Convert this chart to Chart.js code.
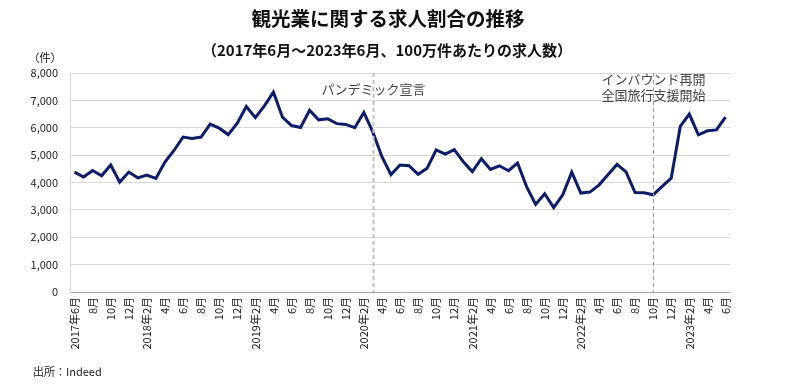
<!DOCTYPE html>
<html>
<head>
<meta charset="utf-8">
<script src="https://cdn.jsdelivr.net/npm/chart.js@4"></script>
<style>
  html, body { margin: 0; padding: 0; background: #fff; }
  #wrap { width: 800px; height: 390px; position: relative; }
</style>
</head>
<body>
<div id="wrap"><canvas id="tourism_chart"></canvas></div>
<script>
// monthly, 2017年6月 .. 2023年6月
const months = [
    '2017年6月','7月','8月','9月','10月','11月','12月',
    '2018年1月','2018年2月','3月','4月','5月','6月','7月','8月','9月','10月','11月','12月',
    '2019年1月','2019年2月','3月','4月','5月','6月','7月','8月','9月','10月','11月','12月',
    '2020年1月','2020年2月','3月','4月','5月','6月','7月','8月','9月','10月','11月','12月',
    '2021年1月','2021年2月','3月','4月','5月','6月','7月','8月','9月','10月','11月','12月',
    '2022年1月','2022年2月','3月','4月','5月','6月','7月','8月','9月','10月','11月','12月',
    '2023年1月','2023年2月','3月','4月','5月','6月'
];
// only every second month is labelled on the axis
const tickLabels = months.map((m, i) => i % 2 === 0 ? m : '');

const jobsPerMillion = [
    4380, 4200, 4440, 4245, 4640, 4015, 4380,
    4170, 4270, 4150, 4750, 5170, 5660, 5610, 5660, 6130, 5985, 5750, 6165,
    6775, 6370, 6800, 7300, 6385, 6080, 6010, 6640, 6290, 6330, 6150, 6120,
    6000, 6560, 5840, 4940, 4290, 4640, 4615, 4300, 4520, 5190, 5040, 5200,
    4760, 4400, 4870, 4480, 4610, 4430, 4710, 3850, 3200, 3590, 3085, 3550,
    4380, 3615, 3650, 3905, 4280, 4660, 4390, 3630, 3625, 3550, 3855, 4160,
    6050, 6500, 5740, 5890, 5920, 6390
];

const yTicks = [0, 1000, 2000, 3000, 4000, 5000, 6000, 7000, 8000];

// event markers (index into months)
const eventIndex = [33, 64];
const eventText = [['パンデミック宣言'], ['インバウンド再開', '全国旅行支援開始']];

const JP = '"Noto Sans CJK JP", "Noto Sans", sans-serif';

const textPlugin = {
    id: 'textPlugin',
    afterDatasetsDraw(chart) {
        const ctx = chart.ctx;
        const xs = chart.scales.x;
        const area = chart.chartArea;
        ctx.save();
        // event lines
        eventIndex.forEach((idx, k) => {
            const x = Math.round(xs.getPixelForValue(idx)) + 0.5;
            ctx.beginPath();
            if (k === 0) {
                ctx.strokeStyle = '#bfbfbf';
                ctx.lineWidth = 2;
            } else {
                ctx.strokeStyle = '#9a9a9a';
                ctx.lineWidth = 1;
            }
            ctx.setLineDash([4, 3]);
            ctx.moveTo(x, area.top);
            ctx.lineTo(x, area.bottom);
            ctx.stroke();
            ctx.setLineDash([]);
            ctx.fillStyle = '#444';
            ctx.font = '13px ' + JP;
            ctx.textAlign = 'center';
            ctx.textBaseline = 'middle';
            const lines = eventText[k];
            const y0 = lines.length === 1 ? 89 : 79;
            lines.forEach((t, j) => {
                ctx.fillText(t, x, y0 + j * 16);
            });
        });
        ctx.restore();
    },
    afterDraw(chart) {
        const ctx = chart.ctx;
        ctx.save();
        ctx.fillStyle = '#111';
        ctx.textAlign = 'center';
        ctx.textBaseline = 'middle';
        ctx.font = 'bold 19.5px ' + JP;
        ctx.fillText('観光業に関する求人割合の推移', 388, 19);
        ctx.font = 'bold 15px ' + JP;
        ctx.fillText('（2017年6月～2023年6月、100万件あたりの求人数）', 387, 50);
        ctx.font = '11px ' + JP;
        ctx.fillStyle = '#222';
        ctx.fillText('（件）', 45, 58);
        ctx.textAlign = 'left';
        ctx.fillText('出所：Indeed', 33, 372);
        ctx.restore();
    }
};

const ctx = document.getElementById('tourism_chart').getContext('2d');
const tourism_chart = new Chart(ctx, {
    type: 'line',
    data: {
        labels: months,
        datasets: [{
            label: '求人数',
            data: jobsPerMillion,
            borderColor: '#0b1c6b',
            borderWidth: 3,
            pointRadius: 0,
            fill: false,
            tension: 0
        }]
    },
    options: {
        responsive: true,
        maintainAspectRatio: false,
        animation: false,
        layout: {
            padding: { top: 73, right: 70, left: 0, bottom: 0 }
        },
        plugins: {
            legend: { display: false },
            title: { display: false },
            tooltip: { enabled: false }
        },
        scales: {
            x: {
                offset: true,
                afterFit(scale) { scale.height = 98; },
                grid: { display: false, drawTicks: false },
                border: { color: '#a6a6a6', width: 1 },
                ticks: {
                    autoSkip: false,
                    maxRotation: 90,
                    minRotation: 90,
                    padding: 5,
                    color: '#222',
                    font: { size: 11, family: JP },
                    callback: (value, index) => tickLabels[index]
                }
            },
            y: {
                min: 0,
                max: 8000,
                afterFit(scale) { scale.width = 70; },
                afterBuildTicks(scale) { scale.ticks = yTicks.map(v => ({ value: v })); },
                grid: { color: '#d9d9d9', drawTicks: false },
                border: { color: '#d9d9d9' },
                ticks: {
                    padding: 12,
                    color: '#222',
                    font: { size: 11, family: JP },
                    callback: (value) => value.toLocaleString('en-US')
                }
            }
        }
    },
    plugins: [textPlugin]
});
</script>
</body>
</html>
